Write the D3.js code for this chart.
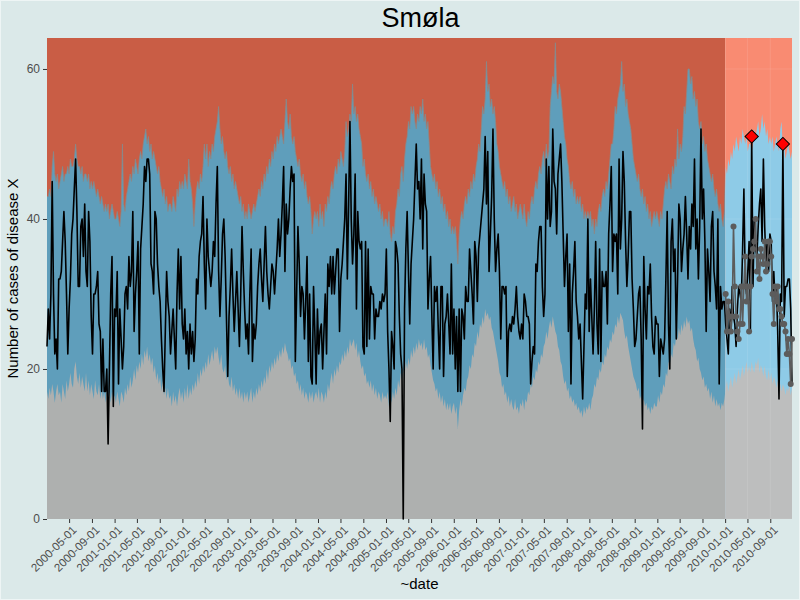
<!DOCTYPE html>
<html><head><meta charset="utf-8">
<script src="https://cdn.jsdelivr.net/npm/d3@7"></script>
<style>
body{margin:0;background:#dbe9e9;}
svg{display:block;font-family:"Liberation Sans",Arial,Helvetica,sans-serif;}
</style>
</head><body>
<svg id="chart" width="800" height="600"></svg>
<script>
// ---------------- data ----------------
const chartTitle = "Smøla";
const xTitle = "~date";
const yTitle = "Number of cases of disease X";
const firstWeek = "2000-01-03";          // weekly series, Mondays
const surveillanceStart = "2010-01-01";  // start of the highlighted period
const yTickValues = [0, 20, 40, 60];
const xTickFormat = "%Y-%m-%d";

// observed weekly counts 2000..2010
const observed = [
 23,28,24,30,45,30,22,24,20,32,32,33,37,41,37,30,22,28,32,38,40,44,48,41,31,31,39,40,35,42,33,31,41,37,27,22,30,30,31,33,26,25,17,24,17,17,20,10,20,30,35,15,
 28,27,33,18,28,24,20,23,30,31,28,35,31,33,41,25,30,33,37,22,36,39,42,47,45,48,48,46,34,33,30,41,40,34,31,29,24,20,17,25,33,29,27,22,25,28,24,20,30,36,28,35,
 26,24,28,22,25,20,26,22,25,21,24,32,30,35,37,38,43,34,28,40,35,33,31,33,37,35,42,47,33,27,32,38,40,35,27,19,27,31,36,30,25,29,33,28,23,30,39,33,28,24,26,22,
 30,36,21,26,24,26,31,34,36,32,29,34,39,33,30,28,31,34,33,30,33,36,40,35,38,42,47,33,42,38,40,44,47,45,46,21,30,39,34,27,31,30,24,29,35,21,30,19,18,31,25,18,
 28,22,25,26,20,25,30,22,34,31,35,30,35,30,33,36,36,25,32,34,37,40,46,32,42,53,40,34,38,46,28,41,37,36,37,23,22,37,23,36,24,31,30,30,24,28,27,27,29,28,30,29,30,
 36,25,20,13,25,23,20,37,36,34,27,22,20,0,28,36,41,33,26,34,37,40,45,50,44,45,40,48,36,46,42,41,28,32,35,27,20,31,29,31,25,20,31,31,19,26,27,30,26,22,34,22,
 28,20,27,17,28,17,28,27,24,31,29,29,36,33,30,26,37,35,29,36,38,40,42,44,51,42,49,33,38,43,52,40,33,36,38,33,24,31,31,30,31,19,25,26,25,27,26,28,31,27,25,24,
 26,24,30,29,27,27,26,18,21,23,22,34,33,37,39,39,31,27,30,48,40,47,39,41,52,45,44,38,46,48,50,45,38,31,35,38,25,34,18,30,33,37,29,27,24,26,21,16,23,30,28,40,
 25,32,27,22,28,37,26,22,36,21,33,31,31,33,26,38,42,47,33,38,37,38,30,48,36,40,49,45,37,31,35,41,41,32,28,23,24,27,30,31,24,12,35,28,24,31,30,34,27,23,22,27,
 26,26,19,24,23,22,24,32,41,26,20,37,40,33,36,24,32,42,40,33,36,38,43,38,32,39,36,42,39,48,36,40,32,39,52,40,44,37,25,36,33,29,39,41,33,31,28,40,18,31,28,29,29,
 26,24,22,28,25,31,27,26,23,28,31,30,29,36,44,32,30,33,37,25,51,31,40,36,35,39,42,44,37,48,39,34,37,33,38,37,29,33,29,31,25,16,30,29,50,27,31,31,32,32,28,18
];

// upper threshold (top of the blue band)
const upper = [
 43,43,44,43,47,49,46,45,46,44,45,46,47,45,46,46,47,46,48,47,47,48,50,48,47,47,46,47,45,46,46,45,46,44,45,44,45,44,43,44,43,42,43,42,41,42,41,42,40,41,42,41,
 40,40,41,40,39,41,50,42,41,43,44,45,46,45,47,46,48,47,46,48,49,48,50,51,52,50,51,49,50,48,49,48,47,46,47,45,44,43,44,42,43,41,42,42,41,43,42,41,44,43,45,44,
 45,44,46,45,44,48,45,44,42,39,42,44,45,44,46,45,47,50,48,50,47,49,48,50,49,51,52,53,55,52,50,51,49,48,49,47,46,47,45,46,44,45,44,43,42,43,41,42,40,41,40,42,
 41,40,41,42,41,42,43,44,43,45,44,46,45,47,46,48,47,49,48,50,49,51,50,51,52,51,50,53,56,53,52,54,51,50,51,49,48,47,48,46,45,46,44,45,43,42,43,41,38,40,41,40,
 41,39,42,40,41,39,42,41,43,42,44,45,44,46,47,46,48,47,49,48,47,49,53,51,52,54,53,58,54,55,53,54,52,51,50,47,48,46,45,46,44,45,43,44,42,43,42,41,42,40,41,39,40,
 40,39,41,38,37,39,38,41,42,44,43,46,47,45,48,50,51,53,52,55,54,55,53,52,54,53,55,54,56,53,54,52,53,50,47,46,45,46,44,45,43,44,42,43,41,42,40,41,39,40,38,39,
 38,39,37,34,38,40,41,40,42,43,42,44,43,45,44,46,45,47,48,50,49,52,55,54,56,61,57,58,55,56,54,55,53,50,49,47,46,45,44,45,43,44,42,43,41,42,43,41,42,40,41,42,
 41,40,42,40,39,41,40,42,43,42,44,45,44,46,47,46,48,49,47,50,48,49,55,57,59,58,63.5,57,56,58,57,55,53,51,50,48,47,45,44,45,43,44,42,43,42,43,41,42,40,41,40,41,
 40,41,39,40,38,40,39,41,42,41,43,44,43,45,44,46,48,50,50,52,55,54,56,57,58,61,57,58,55,56,54,53,52,50,48,47,46,45,46,44,43,44,42,43,41,42,40,41,39,40,41,40,
 41,40,39,41,40,42,44,45,44,46,45,44,47,46,48,47,52,48,50,49,51,55,54,57,60,60,58,59,56,57,55,56,53,52,53,50,51,49,50,48,47,46,45,46,44,43,44,42,41,42,40,39,41,
 47,46,48,47,49,48,50,49,51,50,49,51,50,52,51,50,51,49,50,50,49,50,52,51,52,53,51,52,54,52,53,51,52,50,51,50,51,49,50,51,50,49,52,53,49,50,48,49,50,49,48,49
];

// lower threshold (top of the grey band)
const lower = [
 17,16,17.5,16.5,18,17,15.5,17,18,16.5,17,15.5,18,17,16,18.5,17,18,19.5,18,17.5,20,21,19,18,19.5,17.5,19,18,17,19.5,17,18.5,16.5,18,17,16,18.5,17,16.5,18,16,17.5,16,17,15.5,17.5,16,17,15.5,17,16,
 16.5,15.5,17,16,15,17,16.5,15.5,17.5,16.5,18,17,19,17.5,18.5,20,18.5,20.5,19.5,21,20,22,20.5,22.5,21.5,23,21,22,20.5,21.5,19.5,20.5,18.5,19.5,18,19,17,18.5,16.5,17.5,16,17.5,16,16.5,15,17,15.5,16.5,15,16.5,17.5,16,
 17,15.5,17.5,16,18,16,17.5,16.5,18,17,18.5,17.5,19.5,18,20,19,20.5,19.5,21,20,22,20.5,21.5,22.5,21,23,22,23,21.5,20.5,22,20,19.5,20.5,18.5,19.5,18,17.5,19,17,18,16.5,17.5,16,17.5,16,17,15.5,17,16,17,15.5,
 16.5,17.5,15.5,17,16,17.5,16.5,18,17,18.5,17.5,19,18,20,18.5,20.5,19.5,21,20,21.5,20.5,22,21,22.5,21.5,23,22,23.5,22.5,22,21,21.5,20,20.5,19,19.5,18,18.5,17,18,16.5,17.5,16,17,16.5,15.5,17,16,17,15.5,16.5,17,
 16,17.5,15.5,17,16.5,15.5,17,16,18,17,18.5,19.5,18,20,19,20.5,19.5,21,20.5,22,21,22.5,21.5,23,22,24,23,23.5,24,22.5,23.5,21.5,22.5,21,20,20.5,19,19.5,18,18.5,17.5,18.5,17,18,16.5,17.5,16,17,16.5,15.5,17,16,16.5,
 16,17,15,16.5,15.5,17,16,17.5,16.5,18.5,17.5,19.5,18.5,20,19,21,20,21.5,20.5,22.5,21.5,23,22,23.5,22.5,24,23,23.5,22.5,24,22.5,23,21.5,22,20.5,19.5,18.5,18,17,17.5,16,17,15.5,16.5,15,16,14.5,15.5,14.5,15.5,14,15,
 15.5,14,15,12,14.5,16,15,16.5,17.5,17,18.5,19,20.5,20,22,21.5,23.5,23,25,24,26,25.5,27,26,28,27,27.5,26.5,27,25.5,25,24,23,22,21,19.5,19,17.5,18,16.5,17,15.5,16.5,15,16,15,14.5,16,14.5,15,14,15.5,
 15,16,14.5,16,15.5,17,16.5,18,17.5,19,18.5,20,19.5,21,20.5,22,21.5,23,23.5,25,24,25.5,26.5,25.5,27,26,25,24.5,23,22.5,21,20.5,19,18,18.5,17,17.5,16,16.5,15.5,16,15,15.5,14.5,15,14,14.5,13.5,15,14,15,14.5,
 15.5,14.5,16,16.5,18,17.5,19,18.5,20,19.5,21,20.5,22,21.5,23,22.5,24,23.5,25,24.5,26,25.5,27,26,27.5,27,26.5,25,24,24.5,23,22,21,20,19,18.5,18,17,17.5,16,16.5,15.5,16,15,15.5,14.5,15,14,15,14.5,15.5,15,
 15,16.5,15.5,17,16.5,18,17.5,19.5,19,21,20.5,22,21.5,23.5,23,24.5,24,25.5,24.5,26,25,26.5,25.5,27,26,26.5,25,25.5,24,23,22.5,21,21.5,20,19.5,18.5,19,17.5,18,17,17.5,16,17,15.5,16.5,15,16,15,15.5,14.5,15.5,15,16,
 17.5,18.5,17,18,19,17.5,18.5,19.5,18,19,20,18.5,19.5,20.5,19,20,21,19.5,20.5,19.5,21,20,19.5,21,20.5,21.5,19.5,20.5,20,19,20.5,19,18.5,20,18.5,19.5,18,19,18.5,17.5,18.5,17.5,18,17,18,17.5,16.5,17.5,17,18,16.5,17.5
];

// grey points shown during the 2010 period
const points2010 = [30,25,29,27,25,27,39,31,27,25,24,26,31,26,31,35,29,31,25,31,35,36,37,40,33,35,32,36,35,34,37,33,34,37,37,35,30,26,31,29,31,28,28,27,26,26,25,22,24,22,18,24];

// ---------------- chart ----------------
const W = 800, H = 600;
const M = {left: 47, right: 8, top: 38, bottom: 81};
const svg = d3.select("#chart");
const parse = d3.timeParse("%Y-%m-%d");
const start = parse(firstWeek);
const survStart = parse(surveillanceStart);
const dates = observed.map((_, i) => d3.timeMonday.offset(start, i));
const rows = dates.map((d, i) => ({date: d, obs: observed[i], up: upper[i], lo: lower[i]}));
const nPts = points2010.length;
const rows2010 = rows.slice(rows.length - nPts).map((r, k) => ({date: r.date, v: points2010[k], obs: r.obs, up: r.up}));

const x = d3.scaleTime().domain([dates[0], dates[dates.length - 1]]).range([M.left, W - M.right]);
const y = d3.scaleLinear().domain([0, 64.13]).range([H - M.bottom, M.top]);
const xb = x(survStart);

svg.append("rect").attr("x", 0.5).attr("y", 0.5).attr("width", W - 1).attr("height", H - 1)
  .attr("fill", "#dbe9e9").attr("stroke", "#eef5f5").attr("stroke-width", 1);

const defs = svg.append("defs");
defs.append("clipPath").attr("id", "clipMain").append("rect")
  .attr("x", M.left).attr("y", M.top).attr("width", xb - M.left).attr("height", y(0) - M.top);
defs.append("clipPath").attr("id", "clipSurv").append("rect")
  .attr("x", xb).attr("y", M.top).attr("width", W - M.right - xb).attr("height", y(0) - M.top);

const areaUp = d3.area().x(d => x(d.date)).y0(y(0)).y1(d => y(d.up));
const areaLo = d3.area().x(d => x(d.date)).y0(y(0)).y1(d => y(d.lo));

function band(clipId, cRed, cBlue, cGrey) {
  const g = svg.append("g").attr("clip-path", `url(#${clipId})`);
  g.append("rect").attr("x", M.left).attr("y", M.top).attr("width", W - M.right - M.left)
    .attr("height", y(0) - M.top).attr("fill", cRed);
  g.append("path").datum(rows).attr("d", areaUp).attr("fill", cBlue);
  g.append("path").datum(rows).attr("d", areaLo).attr("fill", cGrey);
  return g;
}
const gMain = band("clipMain", "#c95d45", "#5f9ebb", "#aeb0af");
const gSurv = band("clipSurv", "#f98b72", "#8ecbe7", "#bdbebe");

// faint grid visible through the surveillance period
const xTicks = x.ticks(d3.timeMonth.every(4));
gSurv.selectAll("line.gy").data(yTickValues).join("line")
  .attr("x1", M.left).attr("x2", W - M.right).attr("y1", d => y(d)).attr("y2", d => y(d))
  .attr("stroke", "#ffffff").attr("stroke-opacity", 0.1).attr("stroke-width", 1);
gSurv.selectAll("line.gx").data(xTicks).join("line")
  .attr("x1", d => x(d)).attr("x2", d => x(d)).attr("y1", M.top).attr("y2", y(0))
  .attr("stroke", "#ffffff").attr("stroke-opacity", 0.1).attr("stroke-width", 1);

// outline of the upper threshold before the surveillance period
gMain.append("path").datum(rows)
  .attr("d", d3.line().x(d => x(d.date)).y(d => y(d.up)))
  .attr("fill", "none").attr("stroke", "#8a8a8a").attr("stroke-opacity", 0.75).attr("stroke-width", 1);

// observed line
svg.append("path").datum(rows)
  .attr("d", d3.line().x(d => x(d.date)).y(d => y(d.obs)))
  .attr("fill", "none").attr("stroke", "#000").attr("stroke-width", 1.6).attr("stroke-linejoin", "round");

// grey points in 2010
svg.append("path").datum(rows2010)
  .attr("d", d3.line().x(d => x(d.date)).y(d => y(d.v)))
  .attr("fill", "none").attr("stroke", "#5c5c5c").attr("stroke-width", 1.6);
svg.selectAll("circle.p").data(rows2010).join("circle")
  .attr("cx", d => x(d.date)).attr("cy", d => y(d.v)).attr("r", 3).attr("fill", "#5c5c5c");

// alarms: observed above the upper threshold in the surveillance period
const alarms = rows2010.filter(d => d.obs > d.up);
svg.selectAll("path.alarm").data(alarms).join("path")
  .attr("d", d3.symbol(d3.symbolSquare, 88)())
  .attr("transform", d => `translate(${x(d.date)},${y(d.obs)}) rotate(45)`)
  .attr("fill", "#ff0000").attr("stroke", "#000").attr("stroke-width", 1);

// axes
const yAxis = svg.append("g").attr("transform", `translate(${M.left},0)`)
  .call(d3.axisLeft(y).tickValues(yTickValues).tickSize(4).tickPadding(3));
yAxis.select(".domain").remove();
yAxis.selectAll("line").attr("stroke", "#333");
yAxis.selectAll("text").attr("fill", "#4d4d4d").style("font-size", "12px");

const xAxis = svg.append("g").attr("transform", `translate(0,${y(0)})`)
  .call(d3.axisBottom(x).ticks(d3.timeMonth.every(4)).tickFormat(d3.timeFormat(xTickFormat)).tickSize(4));
xAxis.select(".domain").remove();
xAxis.selectAll("line").attr("stroke", "#333");
xAxis.selectAll("text")
  .attr("x", 0).attr("y", 0).attr("dy", "0.71em")
  .attr("transform", "translate(2,6) rotate(-45)")
  .style("text-anchor", "end").style("font-size", "11.5px").attr("fill", "#4d4d4d");

// titles
svg.append("text").attr("x", (M.left + W - M.right) / 2 + 1).attr("y", 27)
  .attr("text-anchor", "middle").style("font-size", "27px").attr("fill", "#000").text(chartTitle);
svg.append("text").attr("x", (M.left + W - M.right) / 2).attr("y", 589)
  .attr("text-anchor", "middle").style("font-size", "15px").attr("fill", "#000").text(xTitle);
svg.append("text").attr("transform", `translate(18,${(M.top + y(0)) / 2}) rotate(-90)`)
  .attr("text-anchor", "middle").style("font-size", "15px").attr("fill", "#000").text(yTitle);
</script>
</body></html>
